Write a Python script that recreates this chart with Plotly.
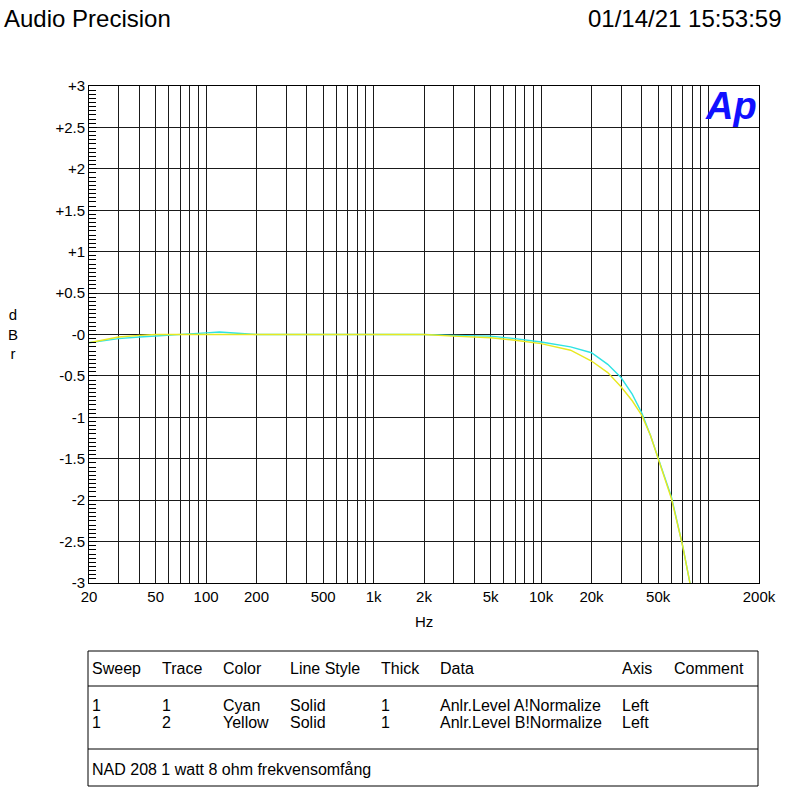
import plotly.graph_objects as go

# ---- data ----
freq_hz = [20, 25, 30, 40, 50, 70, 100, 120, 150, 200, 300, 500, 1000, 2000, 3000,
           5000, 7000, 10000, 15000, 20000, 25000, 30000, 35000, 40000, 45000,
           50000, 60000, 70000, 80000]
cyan_db = [-0.10, -0.07, -0.05, -0.03, -0.02, 0.00, 0.02, 0.03, 0.02, 0.00, 0.00, 0.00,
           0.00, 0.00, -0.01, -0.02, -0.05, -0.09, -0.15, -0.22, -0.36, -0.52, -0.72,
           -0.95, -1.22, -1.50, -1.96, -2.55, -3.15]
yellow_db = [-0.10, -0.06, -0.03, -0.01, 0.00, 0.00, 0.00, 0.00, 0.00, 0.00, 0.00, 0.00,
             0.00, 0.00, -0.02, -0.04, -0.07, -0.11, -0.19, -0.32, -0.46, -0.63, -0.80,
             -0.98, -1.22, -1.50, -1.98, -2.55, -3.15]

grid_freqs = [20, 30, 40, 50, 60, 70, 80, 90, 100, 200, 300, 400, 500, 600, 700, 800, 900,
              1000, 2000, 3000, 4000, 5000, 6000, 7000, 8000, 9000, 10000, 20000, 30000,
              40000, 50000, 60000, 70000, 80000, 90000, 100000, 200000]
x_label_map = {20: "20", 50: "50", 100: "100", 200: "200", 500: "500", 1000: "1k",
               2000: "2k", 5000: "5k", 10000: "10k", 20000: "20k", 50000: "50k",
               200000: "200k"}
y_tickvals = [3, 2.5, 2, 1.5, 1, 0.5, 0, -0.5, -1, -1.5, -2, -2.5, -3]
y_ticktext = ["+3", "+2.5", "+2", "+1.5", "+1", "+0.5", "-0", "-0.5", "-1", "-1.5",
              "-2", "-2.5", "-3"]

table_header = ["Sweep", "Trace", "Color", "Line Style", "Thick", "Data", "Axis", "Comment"]
table_rows = [["1", "1", "Cyan", "Solid", "1", "Anlr.Level A!Normalize", "Left", ""],
              ["1", "2", "Yellow", "Solid", "1", "Anlr.Level B!Normalize", "Left", ""]]
footer_text = "NAD 208 1 watt 8 ohm frekvensomfång"

# ---- layout geometry (pixels) ----
W, H = 799, 796
L, R, T, B = 89, 759, 86, 583
FONT = "Liberation Sans, Arial, sans-serif"


def px(x):
    return (x - L) / (R - L)


def py(y):
    return (B - y) / (B - T)


fig = go.Figure()
fig.add_trace(go.Scatter(x=freq_hz, y=cyan_db, mode="lines",
                         line=dict(color="#2fe3e3", width=1.4), showlegend=False))
fig.add_trace(go.Scatter(x=freq_hz, y=yellow_db, mode="lines",
                         line=dict(color="#e8e820", width=1.4), showlegend=False))

fig.update_layout(
    width=W, height=H,
    margin=dict(l=L, r=W - R, t=T, b=H - B, pad=0),
    paper_bgcolor="white", plot_bgcolor="white",
    font=dict(family=FONT, size=15, color="black"),
    showlegend=False,
)
fig.update_xaxes(
    type="log", range=[1.30103, 5.30103],
    tickvals=grid_freqs,
    ticktext=[x_label_map.get(f, "") for f in grid_freqs],
    showgrid=True, gridcolor="#1a1a1a", gridwidth=1,
    showline=True, linecolor="black", linewidth=1, mirror=True,
    ticks="", tickfont=dict(size=15), zeroline=False,
)
fig.update_yaxes(
    range=[-3, 3], tickvals=y_tickvals, ticktext=y_ticktext,
    showgrid=True, gridcolor="#1a1a1a", gridwidth=1,
    showline=True, linecolor="black", linewidth=1, mirror=True,
    ticks="inside", ticklen=8, tickcolor="black",
    minor=dict(dtick=0.05, tick0=0, ticks="inside", ticklen=7, tickcolor="black",
               showgrid=False),
    tickfont=dict(size=15), zeroline=False,
)

ann = []


def text(x, y, s, size=16, xanchor="left", yanchor="middle", **kw):
    ann.append(dict(x=px(x), y=py(y), xref="paper", yref="paper", text=s,
                    showarrow=False, xanchor=xanchor, yanchor=yanchor,
                    font=dict(family=FONT, size=size, color=kw.get("color", "black")),
                    align=kw.get("align", "left")))


text(2, 19, "Audio Precision", size=24)
text(784, 19, "01/14/21 15:53:59", size=24, xanchor="right")
text(13, 334, "d<br>B<br>r", size=15, xanchor="center", align="center")
text(424, 621, "Hz", size=15, xanchor="center")
ann.append(dict(x=px(731), y=py(106), xref="paper", yref="paper",
                text="<b><i>Ap</i></b>", showarrow=False, xanchor="center",
                yanchor="middle", font=dict(family=FONT, size=38, color="#1010ff")))

col_x = [90, 160, 221, 288, 379, 438, 620, 672]
for cx, h in zip(col_x, table_header):
    text(cx, 668, h)
for ry, row in zip([705, 722], table_rows):
    for cx, v in zip(col_x, row):
        if v:
            text(cx, ry, v)
text(90, 769, footer_text)

shapes = [
    dict(type="rect", xref="paper", yref="paper", x0=px(88), x1=px(758),
         y0=py(651), y1=py(786), line=dict(color="black", width=1)),
    dict(type="line", xref="paper", yref="paper", x0=px(88), x1=px(758),
         y0=py(686), y1=py(686), line=dict(color="black", width=1)),
    dict(type="line", xref="paper", yref="paper", x0=px(88), x1=px(758),
         y0=py(749), y1=py(749), line=dict(color="black", width=1)),
]
fig.update_layout(annotations=ann, shapes=shapes)

fig.write_html(
    "out.html",
    config={"displayModeBar": False},
    post_script="document.body.style.margin='0';document.body.style.overflow='hidden';",
)
